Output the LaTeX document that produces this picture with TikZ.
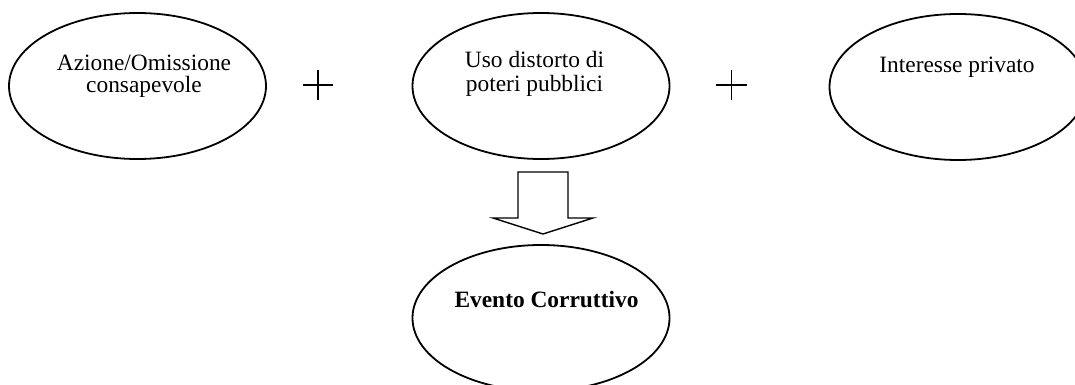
\documentclass[tikz,border=0pt]{standalone}
\usepackage{fontspec}
\setmainfont{Liberation Serif}
\usetikzlibrary{shapes.geometric}
\tikzset{
  oval/.style={draw, line width=0.9pt, ellipse, inner sep=0pt, minimum width=128.5pt, minimum height=73pt},
  txt/.style={inner sep=0pt, anchor=base, font=\fontsize{11.7}{13}\selectfont},
  btxt/.style={txt, font=\fontsize{11.7}{13}\selectfont\bfseries},
  plusline/.style={line width=0.65pt},
  blockarrow/.style={draw, line width=0.7pt, line join=miter}
}
\begin{document}
\begin{tikzpicture}[x=0.5pt,y=-0.5pt]
\useasboundingbox (0,0) rectangle (1075,385);
\clip (0,0) rectangle (1075,385);
% ellipses
\node[oval] (e1) at (137.5,86) {};
\node[oval] (e2) at (541,86) {};
\node[oval] (e3) at (958,87) {};
\node[oval] (e4) at (541,318) {};
% texts
\node[txt] (t1a) at (144,71) {Azione/Omissione};
\node[txt] (t1b) at (144,93) {consapevole};
\node[txt] (t2a) at (534.5,68) {Uso distorto di};
\node[txt] (t2b) at (534.5,91) {poteri pubblici};
\node[txt] (t3) at (957,73) {Interesse privato};
\node[btxt] (t4) at (546.5,307) {Evento Corruttivo};
% plus signs
\coordinate (p1) at (318,85);
\coordinate (p2) at (731.5,85);
\draw[plusline] (p1) +(-15,0) -- +(15,0) (p1) +(0,-15) -- +(0,15);
\draw[plusline] (p2) +(-15.5,0) -- +(15.5,0) (p2) +(0,-15) -- +(0,15);
% block arrow
\draw[blockarrow] (518,172) -- (568,172) -- (568,218) -- (593,218) -- (543,234) -- (493,218) -- (518,218) -- cycle;
\end{tikzpicture}
\end{document}
